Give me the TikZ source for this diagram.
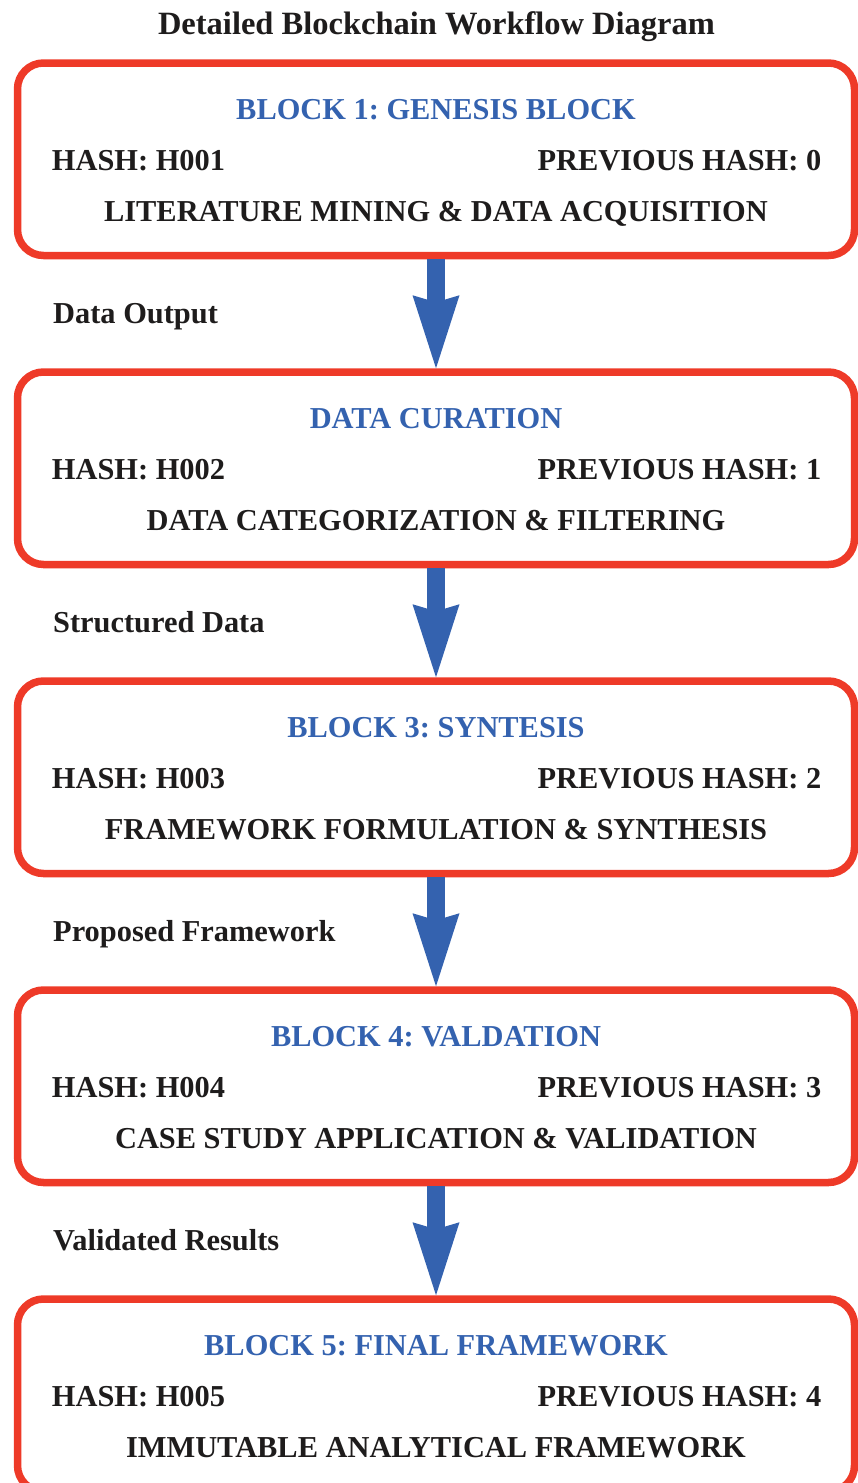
\documentclass[tikz,border=0pt]{standalone}
\usepackage{fontspec}
\setmainfont{Liberation Serif}
\usetikzlibrary{arrows.meta}
\definecolor{boxred}{RGB}{238,58,40}
\definecolor{chainblue}{RGB}{52,98,175}
\definecolor{inkblack}{RGB}{30,28,28}
\frenchspacing
\begin{document}
\begin{tikzpicture}[x=1pt,y=-1pt,
  blockbox/.style={draw=boxred, line width=7.5pt, rounded corners=26pt,
    minimum width=837pt, minimum height=192.5pt, inner sep=0pt},
  txt/.style={font=\fontsize{30.4}{36}\selectfont\bfseries, text=inkblack, inner sep=0pt},
  headtxt/.style={txt, text=chainblue},
  lbl/.style={txt, anchor=base west},
  flow/.style={draw=chainblue, line width=18pt,
    -{Stealth[length=73pt,width=47pt,inset=7pt,line width=0pt]}}]
\useasboundingbox (0,0) rectangle (858,1483);
\clip (0,0) rectangle (858,1483);

\node[txt, font=\fontsize{32.5}{38}\selectfont\bfseries, anchor=base] (title) at (436.5,34.3)
  {Detailed Blockchain Workflow Diagram};

\foreach \i/\ttl/\desc in {%
  1/BLOCK 1: GENESIS BLOCK/LITERATURE MINING \& DATA ACQUISITION,
  2/DATA CURATION/DATA CATEGORIZATION \& FILTERING,
  3/BLOCK 3: SYNTESIS/FRAMEWORK FORMULATION \& SYNTHESIS,
  4/BLOCK 4: VALDATION/CASE STUDY APPLICATION \& VALIDATION,
  5/BLOCK 5: FINAL FRAMEWORK/IMMUTABLE ANALYTICAL FRAMEWORK}{
  \pgfmathsetmacro\ty{63+309*(\i-1)}
  \pgfmathtruncatemacro\prev{\i-1}
  \node[blockbox] (b\i) at (436,\ty+96.25) {};
  \node[headtxt, anchor=base] (t\i) at (436,\ty+56.3) {\ttl};
  \node[txt, anchor=base west] (h\i) at (51.7,\ty+107.7) {HASH: H00\i};
  \node[txt, anchor=base east] (p\i) at (821.5,\ty+107.7) {PREVIOUS HASH: \prev};
  \node[txt, anchor=base] (d\i) at (436,\ty+158.7) {\desc};
}

\foreach \i/\lab in {1/Data Output,2/Structured Data,3/Proposed Framework,4/Validated Results}{
  \pgfmathsetmacro\ly{323+309*(\i-1)}
  \node[lbl] (l\i) at (53,\ly) {\lab};
}

\foreach \i/\j in {1/2,2/3,3/4,4/5}{
  \draw[flow] (b\i.south) -- (b\j.north);
}
\end{tikzpicture}
\end{document}
